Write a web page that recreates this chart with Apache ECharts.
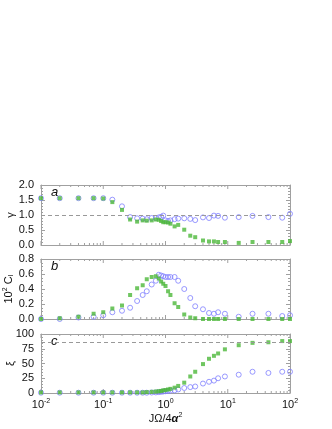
<!DOCTYPE html>
<html>
<head>
<meta charset="utf-8">
<script src="https://cdn.jsdelivr.net/npm/echarts@6/dist/echarts.min.js"></script>
<style>
html,body{margin:0;padding:0;background:#fff;}
#c{width:332px;height:429px;}
</style>
</head>
<body>
<div id="c"></div>
<script>
const xVals = [0.01,0.02,0.04,0.07,0.1,0.14,0.2,0.27,0.35,0.43,0.5,0.6,0.7,0.78,0.85,0.92,1.0,1.1,1.2,1.4,1.6,2.0,2.5,3.0,4.0,5.0,6.0,7.0,9.0,15,25,45,75,100];

const gammaGreen = [1.56,1.56,1.56,1.56,1.55,1.43,1.17,0.85,0.78,0.82,0.81,0.82,0.85,0.84,0.80,0.76,0.76,0.75,0.71,0.62,0.67,0.51,0.31,0.26,0.15,0.12,0.12,0.10,0.10,0.07,0.10,0.10,0.10,0.13];
const gammaBlue  = [1.56,1.56,1.56,1.56,1.56,1.51,1.29,0.93,0.89,0.88,0.86,0.90,0.90,0.92,0.94,0.98,0.82,0.80,0.82,0.86,0.88,0.89,0.87,0.83,0.92,0.90,0.98,0.97,0.91,0.93,0.97,0.93,0.91,1.04];

const ciGreen = [0.00,0.01,0.03,0.07,0.09,0.14,0.18,0.32,0.41,0.45,0.53,0.56,0.57,0.54,0.50,0.47,0.44,0.37,0.32,0.21,0.16,0.06,0.02,0.01,0.00,0.00,0.00,0.00,0.00,0.00,0.00,0.00,0.00,0.00];
const ciBlue  = [0.00,0.00,0.02,0.03,0.05,0.09,0.11,0.15,0.24,0.32,0.37,0.46,0.51,0.59,0.58,0.57,0.56,0.56,0.56,0.56,0.51,0.40,0.28,0.17,0.13,0.08,0.07,0.09,0.07,0.03,0.07,0.07,0.04,0.05];

const xiGreen = [1,1,1,1,1,1,1,1,1,1,1.5,2,2.5,3,3.5,4.5,5,6,7,9,12,17.5,28,36,49,58,63,67,74,81,85,86,88,88];
const xiBlue  = [0.5,0.5,0.5,0.5,0.5,0.5,0.5,0.5,0.5,0.5,0.5,0.8,1,1.5,2,2.5,3,3.5,4,4.5,6,8.5,10,11,16,19,21,25,28,31,36,34,36,36];

const majorTicks = [0.01,0.1,1,10,100];
const minorTicks = [0.02,0.03,0.04,0.05,0.06,0.07,0.08,0.09,0.2,0.3,0.4,0.5,0.6,0.7,0.8,0.9,2,3,4,5,6,7,8,9,20,30,40,50,60,70,80,90];

const gammaTicks = {min:0, max:2, interval:0.5};
const ciTicks = {min:0, max:0.8, interval:0.2};
const xiTicks = {min:0, max:100, interval:25};
const gammaRef = 1.0;
const xiRef = 86;

const FONT = 'Liberation Sans';
const GREEN = '#4cb83a';
const BLUE = '#8080ff';
const FRAME = '#a0a0a0';

const chart = echarts.init(document.getElementById('c'), null, {renderer:'canvas'});

const grids = [
  {left:41, right:42, top:185, height:60, outerBoundsMode:'none', containLabel:false},
  {left:41, right:42, top:259, height:60, outerBoundsMode:'none', containLabel:false},
  {left:41, right:42, top:334, height:59, outerBoundsMode:'none', containLabel:false}
];

function pairs(ys){ return xVals.map((x,i)=>[x, ys[i]]); }

const xAxis = [];
const yAxis = [];
const panels = [
  {t:gammaTicks, fmt:v=>v.toFixed(1), name:'γ', minor:5},
  {t:ciTicks, fmt:v=>v.toFixed(1), name:'10{sup|2} C{sub|I}', minor:4},
  {t:xiTicks, fmt:v=>String(v), name:'ξ', minor:5}
];

panels.forEach((p,i)=>{
  xAxis.push({
    type:'log', logBase:10, gridIndex:i, min:0.01, max:100, position:'bottom',
    axisLine:{show:true, onZero:false, lineStyle:{color:FRAME, width:1}},
    axisTick:{show:false}, splitLine:{show:false}, minorTick:{show:false},
    axisLabel:{
      show: i===2, margin:5, color:'#111', fontFamily:FONT, fontSize:11,
      formatter: v => '10{s|' + Math.round(Math.log10(v)) + '}',
      rich:{s:{fontSize:7, fontFamily:FONT, color:'#111', verticalAlign:'top', padding:[0,0,7,0]}}
    },
    name: i===2 ? 'JΩ/4{a|α}{s|2}' : '',
    nameLocation:'middle', nameGap:19, nameMoveOverlap:false,
    nameTextStyle:{color:'#111', fontFamily:FONT, fontSize:11,
      rich:{a:{fontStyle:'italic', fontWeight:'bold', fontSize:11, fontFamily:FONT, color:'#111'},
            s:{fontSize:7, fontFamily:FONT, color:'#111', padding:[0,0,7,0]}}}
  });
  xAxis.push({
    type:'log', logBase:10, gridIndex:i, min:0.01, max:100, position:'top',
    axisLine:{show:true, onZero:false, lineStyle:{color:FRAME, width:1}},
    axisTick:{show:false}, splitLine:{show:false}, axisLabel:{show:false}
  });
  yAxis.push({
    type:'value', gridIndex:i, position:'left', min:p.t.min, max:p.t.max, interval:p.t.interval,
    axisLine:{show:true, onZero:false, lineStyle:{color:FRAME, width:1}},
    axisTick:{show:true, inside:true, length:4, lineStyle:{color:FRAME}},
    minorTick:{show:true, splitNumber:p.minor, length:2, lineStyle:{color:FRAME}},
    splitLine:{show:false},
    axisLabel:{color:'#111', fontFamily:FONT, fontSize:11, margin:7, formatter:p.fmt},
    name:p.name, nameLocation:'middle', nameRotate:90, nameGap:25, nameMoveOverlap:false,
    nameTextStyle:{color:'#111', fontFamily:FONT, fontSize:11,
      rich:{sup:{fontSize:7, fontFamily:FONT, color:'#111', padding:[0,0,7,0]},
            sub:{fontSize:7, fontFamily:FONT, color:'#111', padding:[5,0,0,0]}}}
  });
  yAxis.push({
    type:'value', gridIndex:i, position:'right', min:p.t.min, max:p.t.max, interval:p.t.interval,
    axisLine:{show:true, onZero:false, lineStyle:{color:FRAME, width:1}},
    axisTick:{show:true, inside:true, length:4, lineStyle:{color:FRAME}},
    minorTick:{show:true, splitNumber:p.minor, length:2, lineStyle:{color:FRAME}},
    splitLine:{show:false}, axisLabel:{show:false}
  });
});

const tickData = majorTicks.map(v=>[v,0,1]).concat(minorTicks.map(v=>[v,0,0]));

function tickRender(params, api){
  const x = api.coord([api.value(0), 0])[0];
  const cs = params.coordSys;
  const len = api.value(2) ? 4 : 2;
  const st = {stroke:FRAME, lineWidth:1};
  return {type:'group', children:[
    {type:'line', shape:{x1:x, y1:cs.y+cs.height, x2:x, y2:cs.y+cs.height-len}, style:st},
    {type:'line', shape:{x1:x, y1:cs.y, x2:x, y2:cs.y+len}, style:st}
  ]};
}

const greens = [gammaGreen, ciGreen, xiGreen];
const blues = [gammaBlue, ciBlue, xiBlue];
const refs = [gammaRef, null, xiRef];
const series = [];
[0,1,2].forEach(i=>{
  series.push({
    type:'custom', xAxisIndex:2*i, yAxisIndex:2*i, data:tickData, renderItem:tickRender,
    silent:true, clip:false, z:1
  });
  const g = {
    type:'scatter', xAxisIndex:2*i, yAxisIndex:2*i, data:pairs(greens[i]),
    symbol:'rect', symbolSize:4, itemStyle:{color:GREEN}, clip:false, z:3, silent:true
  };
  if (refs[i] !== null) {
    g.markLine = {silent:true, symbol:'none', label:{show:false},
      lineStyle:{type:[4,3], color:'#999', width:1},
      data:[{yAxis:refs[i]}]};
  }
  series.push({
    type:'scatter', xAxisIndex:2*i, yAxisIndex:2*i, data:pairs(blues[i]),
    symbol:'circle', symbolSize:5,
    itemStyle:{color:'rgba(0,0,0,0)', borderColor:BLUE, borderWidth:1},
    clip:false, z:2, silent:true
  });
  series.push(g);
});

const letters = ['a','b','c'];
const graphic = letters.map((l,i)=>({
  type:'text', left:51, top:grids[i].top+1,
  style:{text:l, font:'italic 13px "Liberation Sans"', fill:'#111'}
}));

chart.setOption({
  animation:false,
  backgroundColor:'#fff',
  grid:grids,
  xAxis:xAxis,
  yAxis:yAxis,
  series:series,
  graphic:graphic
});
</script>
</body>
</html>
